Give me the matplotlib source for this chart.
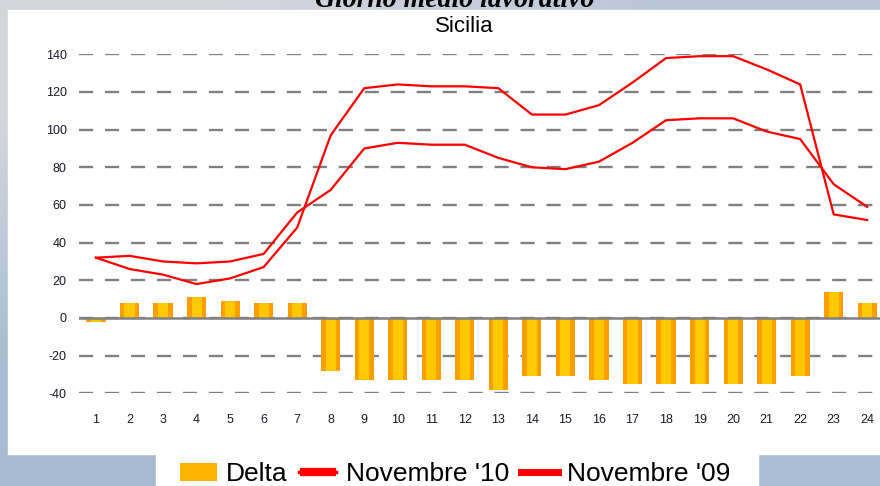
import numpy as np
import matplotlib.pyplot as plt
from matplotlib.patches import Rectangle, Patch
from matplotlib.lines import Line2D

# dati
ore = list(range(1, 25))
delta = [-2, 8, 8, 11, 9, 8, 8, -28, -33, -33, -33, -33, -38, -31, -31, -33,
         -35, -35, -35, -35, -35, -31, 14, 8]
nov10 = [32, 33, 30, 29, 30, 34, 56, 68, 90, 93, 92, 92, 85, 80, 79, 83,
         93, 105, 106, 106, 99, 95, 71, 59]
nov09 = [32, 26, 23, 18, 21, 27, 48, 97, 122, 124, 123, 123, 122, 108, 108, 113,
         125, 138, 139, 139, 132, 124, 55, 52]
tick_y = [-40, -20, 0, 20, 40, 60, 80, 100, 120, 140]
etichette = ['Delta', "Novembre '10", "Novembre '09"]

plt.rcParams['font.family'] = ['Liberation Sans', 'DejaVu Sans']
plt.rcParams['axes.unicode_minus'] = False

W, H = 880, 486
fig = plt.figure(figsize=(W / 100, H / 100), dpi=100)

# sfondo sfumato
bg = fig.add_axes([0, 0, 1, 1], zorder=-3)
grad = np.array([[[0.83, 0.84, 0.87], [0.73, 0.78, 0.85]],
                 [[0.66, 0.74, 0.82], [0.67, 0.75, 0.83]]])
bg.imshow(grad, aspect='auto', interpolation='bilinear', extent=[0, 1, 0, 1])
bg.axis('off')

# pannello bianco e riquadro legenda
fig.patches.append(Rectangle((8 / W, 1 - 454 / H), 1, (454 - 10) / H,
                             transform=fig.transFigure, color='white', zorder=-2))
fig.patches.append(Rectangle((156 / W, 0), (758 - 156) / W, 33 / H,
                             transform=fig.transFigure, color='white', zorder=-2))

ax = fig.add_axes([79.2 / W, 1 - 393.3 / H, (884 - 79.2) / W, 339 / H])
ax.set_facecolor('none')
ax.set_xlim(0.5, 24.5)
ax.set_ylim(-40, 140)
ax.set_yticks(tick_y)
ax.set_xticks(ore)
ax.grid(axis='y', color='#808080', lw=1.7, ls=(0, (6, 5)), zorder=0)

# barre delta (bordo arancio, centro giallo)
ax.bar(ore, delta, width=0.57, color='#FF9E00', zorder=2)
ax.bar(ore, delta, width=0.3, color='#FFC800', zorder=2.1)
ax.axhline(0, color='#808080', lw=1.8, zorder=2.5)

ax.plot(ore, nov10, color='red', lw=1.6, zorder=3)
ax.plot(ore, nov09, color='red', lw=1.6, zorder=3)

for s in ax.spines.values():
    s.set_visible(False)
ax.tick_params(length=0, labelsize=9, colors='#1a1a2a')
ax.tick_params(axis='x', pad=15)
ax.tick_params(axis='y', pad=9)

fig.text(455 / W, 1 - 7 / H, 'Giorno medio lavorativo', ha='center', va='baseline',
         fontsize=20, family='Liberation Serif', style='italic', weight='bold')
fig.text(464 / W, 1 - 27 / H, 'Sicilia', ha='center', va='center', fontsize=16)

handles = [
    Patch(facecolor='#FFB400'),
    (Line2D([], [], color='red', lw=2.5),
     Line2D([], [], color='red', lw=0, marker='_', ms=26, mew=6)),
    Line2D([], [], color='red', lw=5),
]
fig.legend(handles, etichette, loc='center', bbox_to_anchor=(455 / W, 12 / H),
           ncol=3, frameon=False, fontsize=19, handlelength=1.4,
           handletextpad=0.35, columnspacing=0.45, borderpad=0)

fig.savefig('out.png', dpi=100)
